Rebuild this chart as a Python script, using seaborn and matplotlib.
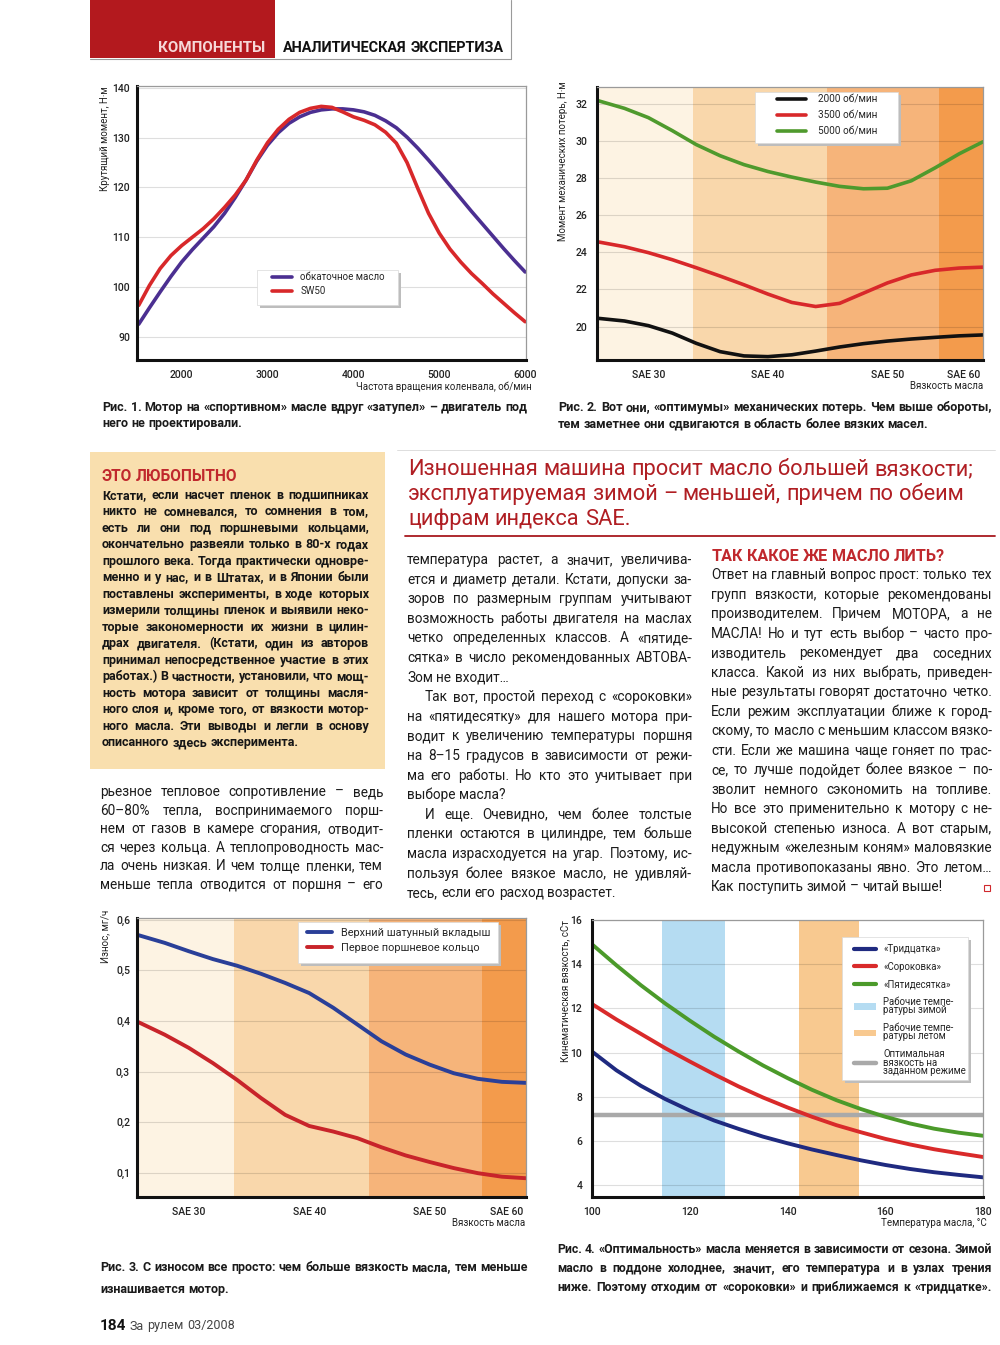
import matplotlib
matplotlib.use("Agg")
import matplotlib.pyplot as plt
import seaborn as sns
from matplotlib.font_manager import FontProperties
from matplotlib.lines import Line2D
from matplotlib.patches import Patch, Rectangle

sns.set_theme(style="white")
FAMILY = ["Roboto", "DejaVu Sans"]
plt.rcParams["font.family"] = FAMILY

# --- Рис. 1: torque vs rpm
RPM = [1500, 1625, 1750, 1875, 2000, 2125, 2250, 2375, 2500, 2625, 2750, 2875, 3000,
       3125, 3250, 3375, 3500, 3625, 3750, 3875, 4000, 4125, 4250, 4375, 4500, 4625,
       4750, 4875, 5000, 5125, 5250, 5375, 5500, 5625, 5750, 5875, 6000]
TORQUE_RUNIN = [92.5, 95.8, 99.0, 102.1, 105.0, 107.5, 109.8, 112.1, 114.8, 118.0, 121.5, 125.3, 128.5,
                131.0, 132.9, 134.2, 135.1, 135.6, 135.8, 135.8, 135.6, 135.2, 134.5, 133.4, 132.0, 130.1,
                127.9, 125.5, 123.0, 120.4, 117.8, 115.2, 112.7, 110.2, 107.7, 105.3, 103.0]
TORQUE_SW50 = [96.3, 100.3, 103.7, 106.3, 108.3, 110.0, 111.7, 113.7, 116.0, 118.5, 121.5, 125.5, 129.0,
               131.7, 133.7, 135.1, 135.9, 136.3, 136.1, 135.2, 134.2, 133.5, 132.6, 131.1, 128.9, 125.0,
               119.8, 114.8, 110.8, 107.6, 105.0, 102.7, 100.7, 98.6, 96.7, 94.8, 93.0]
RPM_TICKS = [2000, 3000, 4000, 5000, 6000]
TORQUE_TICKS = [90, 100, 110, 120, 130, 140]

# --- Рис. 2: friction loss vs viscosity
VISC = [25.7, 28, 30, 32, 34, 36, 38, 40, 42, 44, 46, 48, 50, 52, 54, 56, 58]
LOSS_2000 = [20.45, 20.3, 20.05, 19.65, 19.1, 18.65, 18.42, 18.38, 18.48, 18.68,
             18.9, 19.08, 19.22, 19.33, 19.42, 19.5, 19.55]
LOSS_3500 = [24.57, 24.3, 23.98, 23.6, 23.17, 22.72, 22.25, 21.75, 21.3, 21.08,
             21.25, 21.8, 22.35, 22.78, 23.03, 23.15, 23.2]
LOSS_5000 = [32.18, 31.75, 31.25, 30.55, 29.8, 29.2, 28.72, 28.35, 28.05, 27.78,
             27.55, 27.42, 27.45, 27.85, 28.55, 29.3, 29.95]
LOSS_TICKS = [20, 22, 24, 26, 28, 30, 32]
SAE_POS = [30, 40, 50, 56.4]
SAE_LABELS = ["SAE 30", "SAE 40", "SAE 50", "SAE 60"]
BAND_EDGES = [25.7, 33.75, 44.95, 54.35, 58.0]
BAND_COLORS = ["#fdf3e3", "#f9d7ab", "#f6b47a", "#f39b4c"]

# --- Рис. 3: wear vs viscosity
WEAR_BEARING = [0.570, 0.554, 0.5375, 0.522, 0.509, 0.493, 0.475, 0.455, 0.426, 0.393,
                0.360, 0.334, 0.314, 0.297, 0.286, 0.280, 0.278]
WEAR_RING = [0.399, 0.373, 0.347, 0.317, 0.284, 0.248, 0.215, 0.193, 0.182, 0.169,
             0.151, 0.135, 0.122, 0.110, 0.100, 0.093, 0.090]
WEAR_TICKS = [0.1, 0.2, 0.3, 0.4, 0.5, 0.6]
WEAR_LABELS = ["0,1", "0,2", "0,3", "0,4", "0,5", "0,6"]

# --- Рис. 4: kinematic viscosity vs oil temperature
TEMP = [100, 105, 110, 115, 120, 125, 130, 135, 140, 145, 150, 155, 160, 165, 170, 175, 180]
KV_30 = [10.05, 9.2, 8.5, 7.9, 7.38, 6.93, 6.55, 6.2, 5.9, 5.62, 5.37, 5.13, 4.92, 4.74, 4.59, 4.47, 4.36]
KV_40 = [12.2, 11.5, 10.85, 10.2, 9.6, 9.02, 8.47, 7.97, 7.52, 7.1, 6.72, 6.4, 6.1, 5.85, 5.63, 5.45, 5.28]
KV_50 = [14.9, 13.95, 13.05, 12.22, 11.45, 10.72, 10.05, 9.42, 8.85, 8.32, 7.85, 7.45, 7.1, 6.8, 6.56, 6.38, 6.24]
TEMP_TICKS = [100, 120, 140, 160, 180]
KV_TICKS = [4, 6, 8, 10, 12, 14, 16]
WINTER = [114.4, 127.2]
SUMMER = [142.3, 154.6]
OPTIMUM = 7.2

W, H = 1000, 1345
fig = plt.figure(figsize=(10, 13.45), dpi=100)
fig.patch.set_facecolor("white")
renderer = fig.canvas.get_renderer()


def fx(px):
    return px / W


def fy(py):
    return 1 - py / H


def add_axes(l, t, r, b):
    return fig.add_axes([fx(l), fy(b), (r - l) / W, (b - t) / H])


def style_axes(ax, ypad=5):
    ax.set_facecolor("white")
    for side in ("left", "bottom"):
        ax.spines[side].set_color("#111111")
        ax.spines[side].set_linewidth(2.2)
    for side in ("top", "right"):
        ax.spines[side].set_color("#9a9a9a")
        ax.spines[side].set_linewidth(0.9)
    ax.tick_params(length=0, labelsize=7.5, labelcolor="#222222")
    ax.tick_params(axis="y", pad=ypad)
    ax.tick_params(axis="x", pad=7)
    ax.grid(axis="y", color="black", alpha=0.13, linewidth=0.8)
    ax.grid(axis="x", visible=False)
    ax.set_axisbelow(True)
    ax.set_xlabel("")
    ax.set_ylabel("")
    for lbl in ax.get_xticklabels() + ax.get_yticklabels():
        lbl.set_fontweight("medium")


def axis_texts(ax, ylab, yx, xlab, xx, xy, ytop=1.0):
    ax.text(yx, ytop, ylab, transform=ax.transAxes, rotation=90, ha="center", va="top",
            fontsize=7, color="#222222")
    ax.text(xx, xy, xlab, transform=ax.transAxes, ha="right", va="center",
            fontsize=7, color="#222222")


def legend_panel(ax, box, anchor, handles=None, labels=None, **kw):
    # white panel with a soft drop shadow, legend entries placed inside
    l, t, r, b = box
    fig.add_artist(Rectangle((fx(l + 3), fy(b + 3)), (r - l) / W, (b - t) / H,
                             transform=fig.transFigure, color="#bdbdbd", lw=0, zorder=2))
    fig.add_artist(Rectangle((fx(l), fy(b)), (r - l) / W, (b - t) / H,
                             transform=fig.transFigure, facecolor="white",
                             edgecolor="#d9d9d9", lw=0.5, zorder=2.1))
    if handles is None:
        handles, labels = ax.get_legend_handles_labels()
    leg = fig.legend(handles, labels, loc="upper left", bbox_to_anchor=(fx(anchor[0]), fy(anchor[1])),
                     frameon=False, borderpad=0, borderaxespad=0, **kw)
    leg.set_zorder(3)
    return leg


def text_width(s, fp):
    w, _, _ = renderer.get_text_width_height_descent(s, fp, ismath=False)
    return w


def fit_size(lines, width, weight="normal", base=10.0):
    fp = FontProperties(family=FAMILY, weight=weight, size=base)
    sp = text_width("a a", fp) - text_width("aa", fp)
    widest = 0
    for ln in lines:
        words = ln.split()
        widest = max(widest, sum(text_width(w, fp) for w in words) + sp * (len(words) - 1))
    return base * width / widest


def put_lines(lines, x0, x1, y0, step, size, weight="normal", color="#1b1b1b",
              ragged=(), indent=None, shift=0.3):
    fp = FontProperties(family=FAMILY, weight=weight, size=size)
    em = size * 100 / 72
    sp = text_width("a a", fp) - text_width("aa", fp)
    indent = indent or {}
    for i, ln in enumerate(lines):
        words = ln.split()
        left = x0 + indent.get(i, 0)
        widths = [text_width(w, fp) for w in words]
        if i in ragged or len(words) == 1:
            gap = sp
        else:
            gap = (x1 - left - sum(widths)) / (len(words) - 1)
        x = left
        base = y0 + i * step + shift * em
        for w, wd in zip(words, widths):
            fig.text(fx(x), fy(base), w, fontproperties=fp, color=color,
                     ha="left", va="baseline")
            x += wd + gap


def fig_line(xs, ys, color, lw):
    fig.add_artist(Line2D([fx(v) for v in xs], [fy(v) for v in ys],
                          transform=fig.transFigure, color=color, lw=lw))


# ---------------- header
fig.add_artist(Rectangle((fx(90), fy(58)), 185 / W, 58 / H, transform=fig.transFigure,
                         color="#b3191e", lw=0))
s = fit_size(["КОМПОНЕНТЫ"], 107, "bold")
put_lines(["КОМПОНЕНТЫ"], 158, 265, 47, 0, s, "bold", "#f6d8d8", ragged=(0,), shift=0.36)
s = fit_size(["АНАЛИТИЧЕСКАЯ ЭКСПЕРТИЗА"], 219, "bold")
put_lines(["АНАЛИТИЧЕСКАЯ ЭКСПЕРТИЗА"], 283, 502, 47, 0, s, "bold", "#111111", ragged=(0,), shift=0.36)
fig_line([90, 511], [59, 59], "#9a9a9a", 0.8)
fig_line([511, 511], [0, 59], "#9a9a9a", 0.8)

# ---------------- Рис. 1
ax1 = add_axes(137, 86, 526, 360)
sns.lineplot(x=RPM, y=TORQUE_RUNIN, ax=ax1, color="#4b2f91", linewidth=2.6,
             label="обкаточное масло", legend=False)
sns.lineplot(x=RPM, y=TORQUE_SW50, ax=ax1, color="#d8282a", linewidth=2.6, label="SW50", legend=False)
ax1.set_xlim(1480, 6010)
ax1.set_ylim(85.3, 140.4)
ax1.set_xticks(RPM_TICKS)
ax1.set_yticks(TORQUE_TICKS)
style_axes(ax1)
legend_panel(ax1, (257, 270, 398, 305), (272, 272.5), fontsize=7, handlelength=2.1,
             handletextpad=0.8, labelspacing=0.37)
axis_texts(ax1, "Крутящий момент, Н·м", -0.082, "Частота вращения коленвала, об/мин", 1.015, -0.0985)

# ---------------- Рис. 2
ax2 = add_axes(597, 87, 983, 360)
for lo, hi, c in zip(BAND_EDGES[:-1], BAND_EDGES[1:], BAND_COLORS):
    ax2.axvspan(lo, hi, color=c, zorder=0, lw=0)
sns.lineplot(x=VISC, y=LOSS_2000, ax=ax2, color="#111111", linewidth=2.6, label="2000 об/мин", legend=False)
sns.lineplot(x=VISC, y=LOSS_3500, ax=ax2, color="#d8282a", linewidth=2.6, label="3500 об/мин", legend=False)
sns.lineplot(x=VISC, y=LOSS_5000, ax=ax2, color="#4f9a2d", linewidth=2.6, label="5000 об/мин", legend=False)
ax2.set_xlim(BAND_EDGES[0], BAND_EDGES[-1])
ax2.set_ylim(18.2, 32.9)
ax2.set_xticks(SAE_POS, SAE_LABELS)
ax2.set_yticks(LOSS_TICKS)
style_axes(ax2, ypad=7)
legend_panel(ax2, (755, 92, 898, 143), (777, 94.5), fontsize=7.2, handlelength=2.9,
             handletextpad=1.2, labelspacing=0.6)
axis_texts(ax2, "Момент механических потерь, Н·м", -0.088, "Вязкость масла", 1.0, -0.094, ytop=1.02)

# ---------------- Рис. 3
ax3 = add_axes(137, 918, 526, 1197)
for lo, hi, c in zip(BAND_EDGES[:-1], BAND_EDGES[1:], BAND_COLORS):
    ax3.axvspan(lo, hi, color=c, zorder=0, lw=0)
sns.lineplot(x=VISC, y=WEAR_BEARING, ax=ax3, color="#2a3f98", linewidth=2.8,
             label="Верхний шатунный вкладыш", legend=False)
sns.lineplot(x=VISC, y=WEAR_RING, ax=ax3, color="#c8242a", linewidth=2.8,
             label="Первое поршневое кольцо", legend=False)
ax3.set_xlim(BAND_EDGES[0], BAND_EDGES[-1])
ax3.set_ylim(0.053, 0.603)
ax3.set_xticks(SAE_POS, SAE_LABELS)
ax3.set_yticks(WEAR_TICKS, WEAR_LABELS)
style_axes(ax3)
legend_panel(ax3, (298, 922, 498, 963), (307, 928), fontsize=7.8, handlelength=2.3,
             handletextpad=0.8, labelspacing=0.45)
axis_texts(ax3, "Износ, мг/ч", -0.082, "Вязкость масла", 0.997, -0.093, ytop=1.03)

# ---------------- Рис. 4
ax4 = add_axes(592, 920, 983, 1197)
ax4.axvspan(WINTER[0], WINTER[1], color="#b5dcf2", zorder=0, lw=0)
ax4.axvspan(SUMMER[0], SUMMER[1], color="#f8c990", zorder=0, lw=0)
ax4.axhline(OPTIMUM, color="#a9a9a9", lw=3.2, zorder=1.5)
sns.lineplot(x=TEMP, y=KV_30, ax=ax4, color="#1f2a80", linewidth=2.8)
sns.lineplot(x=TEMP, y=KV_40, ax=ax4, color="#d92a2a", linewidth=2.8)
sns.lineplot(x=TEMP, y=KV_50, ax=ax4, color="#4b9a2a", linewidth=2.8)
ax4.set_xlim(100, 180)
ax4.set_ylim(3.47, 16.0)
ax4.set_xticks(TEMP_TICKS)
ax4.set_yticks(KV_TICKS)
style_axes(ax4, ypad=7)
handles4 = [Line2D([], [], color="#1f2a80", lw=3), Line2D([], [], color="#d92a2a", lw=3),
            Line2D([], [], color="#4b9a2a", lw=3), Patch(facecolor="#b5dcf2", lw=0),
            Patch(facecolor="#f8c990", lw=0), Line2D([], [], color="#a9a9a9", lw=3.2)]
labels4 = ["«Тридцатка»", "«Сороковка»", "«Пятидесятка»", "Рабочие темпе-\nратуры зимой",
           "Рабочие темпе-\nратуры летом", "Оптимальная\nвязкость на\nзаданном режиме"]
leg4 = legend_panel(ax4, (842, 937, 968, 1080), (854, 944), handles4, labels4, fontsize=6.9,
                    handlelength=2.3, handletextpad=0.75, labelspacing=0.8)
for t in leg4.get_texts():
    t.set_linespacing(0.8)
axis_texts(ax4, "Кинематическая вязкость, сСт", -0.069, "Температура масла, °С", 1.01, -0.094)

# ---------------- captions
CAP1 = ["Рис. 1. Мотор на «спортивном» масле вдруг «затупел» – двигатель под",
        "него не проектировали."]
CAP2 = ["Рис. 2. Вот они, «оптимумы» механических потерь. Чем выше обороты,",
        "тем заметнее они сдвигаются в область более вязких масел."]
CAP3 = ["Рис. 3. С износом все просто: чем больше вязкость масла, тем меньше",
        "изнашивается мотор."]
CAP4 = ["Рис. 4. «Оптимальность» масла меняется в зависимости от сезона. Зимой",
        "масло в поддоне холоднее, значит, его температура и в узлах трения",
        "ниже. Поэтому отходим от «сороковки» и приближаемся к «тридцатке»."]
s = fit_size(CAP1[:1], 425, "bold")
put_lines(CAP1, 102, 527, 407, 16.5, s, "bold", ragged=(1,))
s = fit_size(CAP2[:1], 434, "bold")
put_lines(CAP2, 558, 992, 407, 17, s, "bold", ragged=(1,))
s = fit_size(CAP3[:1], 428, "bold")
put_lines(CAP3, 100, 528, 1267, 22, s, "bold", ragged=(1,))
s = fit_size(CAP4, 435, "bold")
put_lines(CAP4, 557, 992, 1249, 19, s, "bold")

# ---------------- sidebar "ЭТО ЛЮБОПЫТНО"
fig.add_artist(Rectangle((fx(90), fy(769)), 295 / W, (769 - 452) / H, transform=fig.transFigure,
                         color="#f9dfae", lw=0))
s = fit_size(["ЭТО ЛЮБОПЫТНО"], 136, "bold")
put_lines(["ЭТО ЛЮБОПЫТНО"], 102, 238, 475, 0, s, "bold", "#c0282d", ragged=(0,), shift=0.36)
SIDEBAR = ["Кстати, если насчет пленок в подшипниках",
           "никто не сомневался, то сомнения в том,",
           "есть ли они под поршневыми кольцами,",
           "окончательно развеяли только в 80-х годах",
           "прошлого века. Тогда практически одновре-",
           "менно и у нас, и в Штатах, и в Японии были",
           "поставлены эксперименты, в ходе которых",
           "измерили толщины пленок и выявили неко-",
           "торые закономерности их жизни в цилин-",
           "драх двигателя. (Кстати, один из авторов",
           "принимал непосредственное участие в этих",
           "работах.) В частности, установили, что мощ-",
           "ность мотора зависит от толщины масля-",
           "ного слоя и, кроме того, от вязкости мотор-",
           "ного масла. Эти выводы и легли в основу",
           "описанного здесь эксперимента."]
s = fit_size(SIDEBAR[:-1], 267, "bold")
put_lines(SIDEBAR, 102, 369, 495, 16.5, s, "bold", "#161616", ragged=(15,))

# ---------------- left column body
LEFT = ["рьезное тепловое сопротивление – ведь",
        "60–80% тепла, воспринимаемого порш-",
        "нем от газов в камере сгорания, отводит-",
        "ся через кольца. А теплопроводность мас-",
        "ла очень низкая. И чем толще пленки, тем",
        "меньше тепла отводится от поршня – его"]
s_body = fit_size(LEFT, 283)

# ---------------- headline
HEAD = ["Изношенная машина просит масло большей вязкости;",
        "эксплуатируемая зимой – меньшей, причем по обеим",
        "цифрам индекса SAE."]
s = fit_size(HEAD[:1], 567)
put_lines(HEAD, 408, 975, 467, 25, s, "normal", "#b01e23", ragged=(0, 1, 2), shift=0.36)
fig_line([405, 995], [536, 536], "#a8191f", 1.3)
fig_line([397, 995], [450, 450], "#d8d8d8", 0.6)

# ---------------- middle column
MID = ["температура растет, а значит, увеличива-",
       "ется и диаметр детали. Кстати, допуски за-",
       "зоров по размерным группам учитывают",
       "возможность работы двигателя на маслах",
       "четко определенных классов. А «пятиде-",
       "сятка» в число рекомендованных АВТОВА-",
       "Зом не входит…",
       "Так вот, простой переход с «сороковки»",
       "на «пятидесятку» для нашего мотора при-",
       "водит к увеличению температуры поршня",
       "на 8–15 градусов в зависимости от режи-",
       "ма его работы. Но кто это учитывает при",
       "выборе масла?",
       "И еще. Очевидно, чем более толстые",
       "пленки остаются в цилиндре, тем больше",
       "масла израсходуется на угар. Поэтому, ис-",
       "пользуя более вязкое масло, не удивляй-",
       "тесь, если его расход возрастет."]
MID_END = (6, 12, 17)

# ---------------- right column
s = fit_size(["ТАК КАКОЕ ЖЕ МАСЛО ЛИТЬ?"], 233, "bold")
put_lines(["ТАК КАКОЕ ЖЕ МАСЛО ЛИТЬ?"], 712, 945, 555, 0, s, "bold", "#c0282d", ragged=(0,), shift=0.36)
RIGHT = ["Ответ на главный вопрос прост: только тех",
         "групп вязкости, которые рекомендованы",
         "производителем. Причем МОТОРА, а не",
         "МАСЛА! Но и тут есть выбор – часто про-",
         "изводитель рекомендует два соседних",
         "класса. Какой из них выбрать, приведен-",
         "ные результаты говорят достаточно четко.",
         "Если режим эксплуатации ближе к город-",
         "скому, то масло с меньшим классом вязко-",
         "сти. Если же машина чаще гоняет по трас-",
         "се, то лучше подойдет более вязкое – по-",
         "зволит немного сэкономить на топливе.",
         "Но все это применительно к мотору с не-",
         "высокой степенью износа. А вот старым,",
         "недужным «железным коням» маловязкие",
         "масла противопоказаны явно. Это летом…",
         "Как поступить зимой – читай выше!"]

s_mid = fit_size([ln for i, ln in enumerate(MID) if i not in MID_END], 285)
s_right = fit_size(RIGHT[:-1], 281)
s_body = min(s_body, s_mid, s_right)
put_lines(LEFT, 100, 383, 792, 18.5, s_body)
put_lines(MID, 407, 692, 560, 19.6, s_body, ragged=MID_END, indent={7: 18, 13: 18})
put_lines(RIGHT, 711, 992, 575, 19.5, s_body, ragged=(16,))
fig.add_artist(Rectangle((fx(984), fy(891)), 6 / W, 6 / H, transform=fig.transFigure,
                         facecolor="none", edgecolor="#d0282d", lw=0.8))

# ---------------- footer
put_lines(["184"], 100, 125, 1325, 0, 11, "bold", "#111111", ragged=(0,), shift=0.36)
put_lines(["За рулем 03/2008"], 130, 250, 1325, 0, 9, "normal", "#444444", ragged=(0,), shift=0.36)

fig.savefig("out.png", dpi=100)
